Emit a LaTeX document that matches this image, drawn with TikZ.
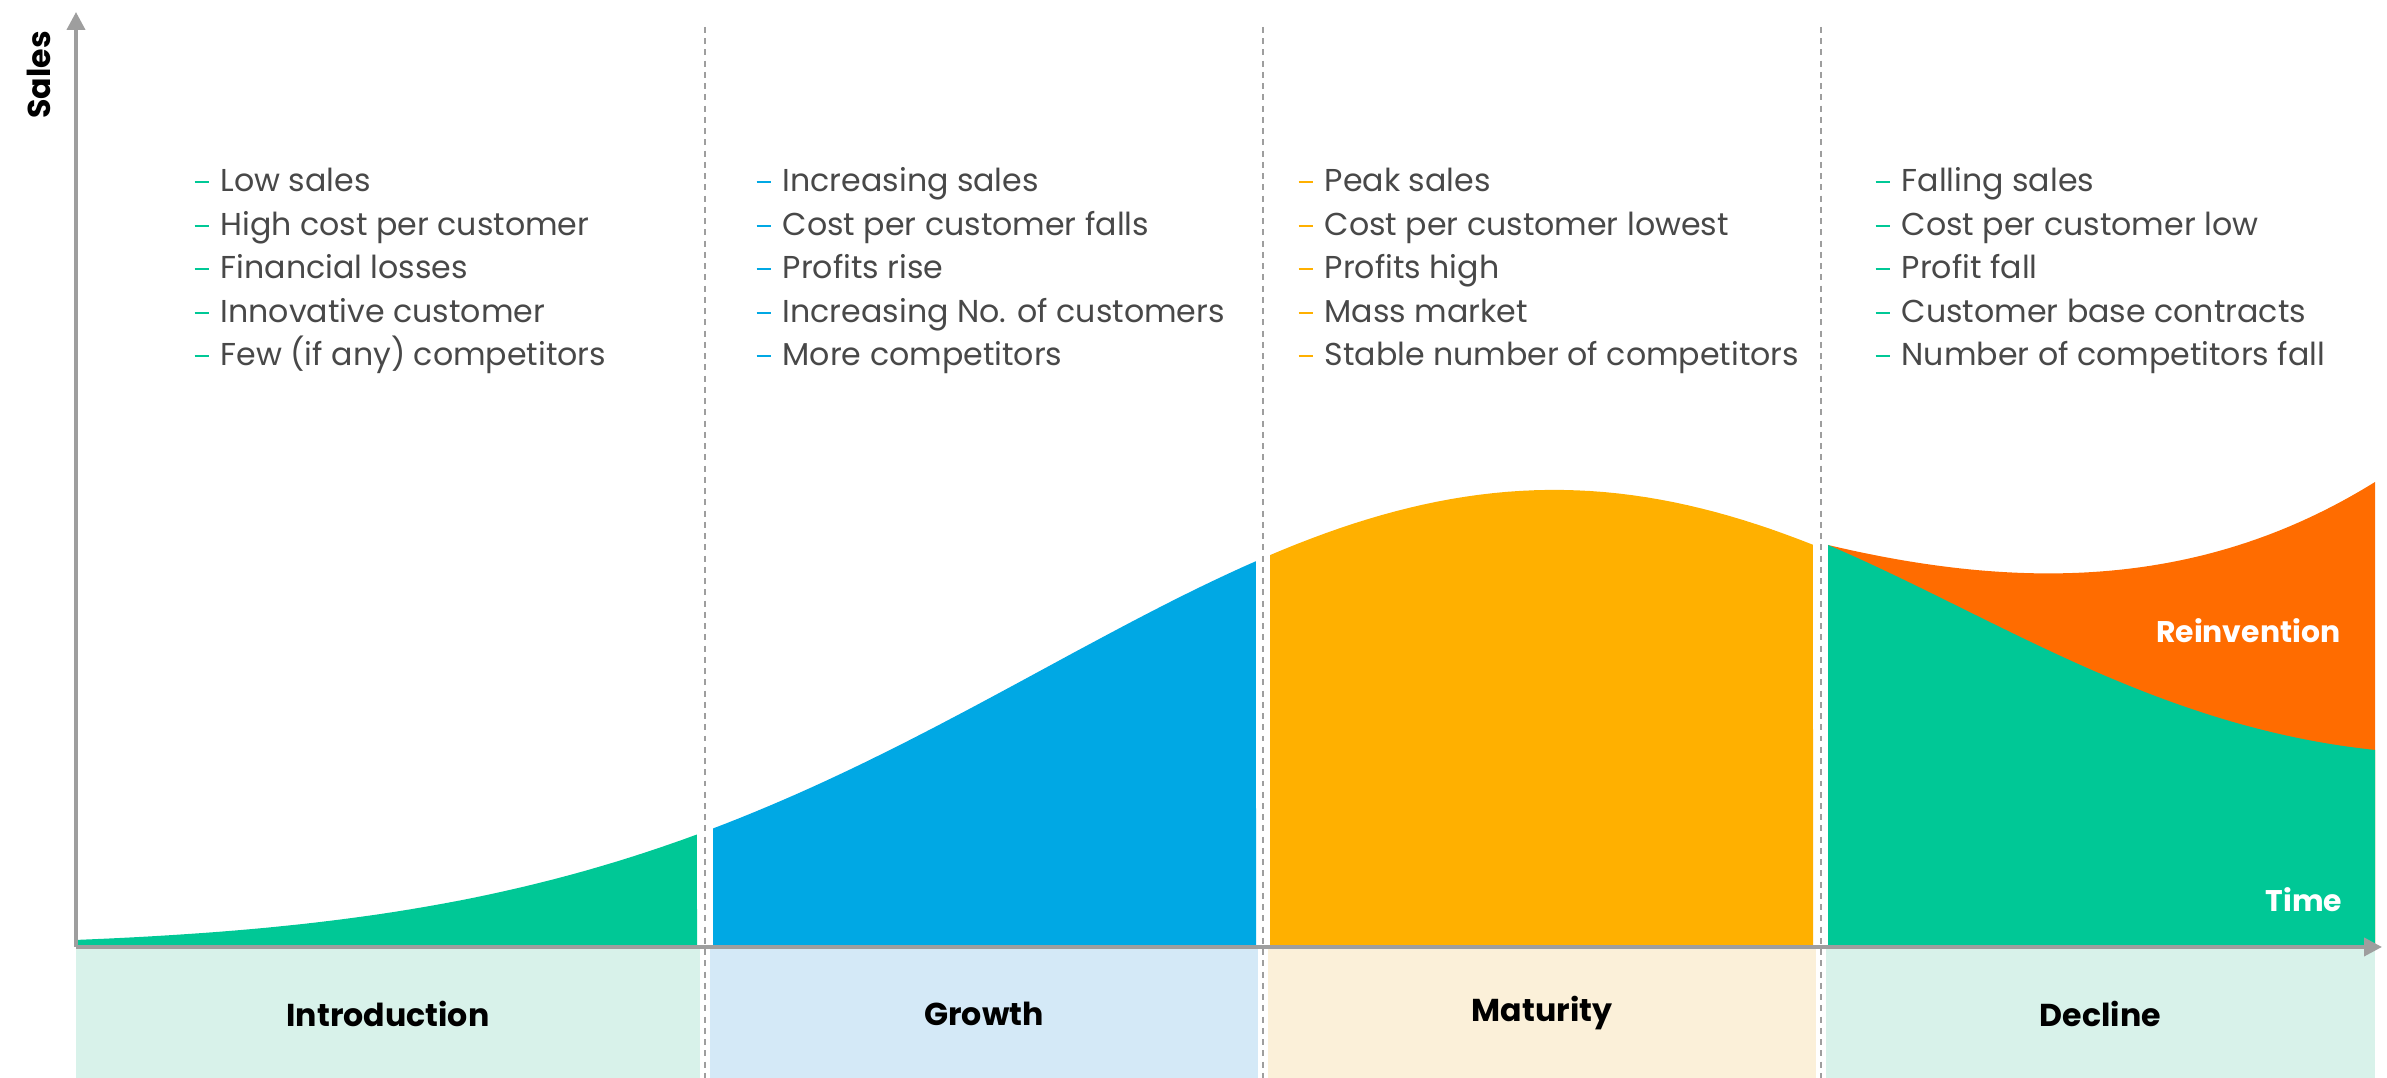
\documentclass[tikz,border=0pt]{standalone}
\usepackage{fontspec}
\setmainfont{Poppins}
\usetikzlibrary{arrows.meta, positioning, calc}

\definecolor{introgreen}{RGB}{0,200,150}
\definecolor{growthblue}{RGB}{0,168,228}
\definecolor{maturityamber}{RGB}{255,176,0}
\definecolor{reinventorange}{RGB}{255,108,0}
\definecolor{introband}{RGB}{216,242,234}
\definecolor{growthband}{RGB}{212,233,247}
\definecolor{maturityband}{RGB}{251,240,217}
\definecolor{axisgray}{RGB}{158,158,158}
\definecolor{listgray}{RGB}{72,72,72}

% short coloured dash in front of each list item
\newcommand{\dashmark}[1]{\textcolor{#1}{\rule[2.5pt]{1.4mm}{0.6pt}}\hspace{1.2mm}}

\begin{document}
\begin{tikzpicture}[
    >=Stealth,
    % Axes and separators
    axisline/.style={-{Triangle[length=1.8mm, width=1.8mm]}, axisgray, line width=1.1pt},
    phasesep/.style={axisgray, line width=0.6pt, dash pattern=on 1.7pt off 1.5pt},
    % Bottom phase bands
    band/.style={rectangle, minimum height=1.29cm, inner sep=0pt, font=\bfseries\fontsize{9}{11}\selectfont, text=black},
    % Bullet lists
    itemtext/.style={anchor=base west, inner sep=0pt, font=\fontsize{9}{10}\selectfont, text=listgray},
    % White labels in the curve
    curvelabel/.style={anchor=base east, inner sep=0pt, font=\bfseries\fontsize{8.5}{10}\selectfont, text=white},
    saleslabel/.style={font=\bfseries\fontsize{9}{10}\selectfont, text=black, rotate=90}
]
    \useasboundingbox (-0.76,-1.31) rectangle (23.11,9.47);

    % === SALES CURVE ===
    \fill[introgreen] (0,0) -- plot[domain=0:6.21, samples=40] (\x, {4.57*exp(-(\x-14.78)^2/52.4)}) -- (6.21,0) -- cycle;
    \fill[growthblue] (6.37,0) -- plot[domain=6.37:11.80, samples=40] (\x, {4.57*exp(-(\x-14.78)^2/52.4)}) -- (11.80,0) -- cycle;
    \fill[maturityamber] (11.94,0) -- plot[domain=11.94:17.37, samples=40] (\x, {4.57*exp(-(\x-14.78)^2/52.4)}) -- (17.37,0) -- cycle;

    % Decline and reinvention
    \fill[reinventorange] (17.52,0) -- (17.52,4.02) .. controls (19.5,3.55) and (21.3,3.6) .. (22.99,4.65) -- (22.99,0) -- cycle;
    \fill[introgreen] (17.52,0) -- (17.52,4.02) .. controls (19.2,3.3) and (20.8,2.2) .. (22.99,1.97) -- (22.99,0) -- cycle;

    \node[curvelabel] (reinvlabel) at (22.65,3.04) {Reinvention};
    \node[curvelabel] (timelabel) at (22.67,0.35) {Time};

    % === PHASE BANDS ===
    \node[band, fill=introband, minimum width=6.24cm] (introband) at (3.12,-0.665) {Introduction};
    \node[band, fill=growthband, minimum width=5.48cm] (growthband) at (9.08,-0.665) {Growth};
    \node[band, fill=maturityband, minimum width=5.48cm] (maturityband) at (14.66,-0.665) {Maturity};
    \node[band, fill=introband, minimum width=5.49cm] (declineband) at (20.245,-0.665) {Decline};

    % === SEPARATORS ===
    \foreach \x in {6.29, 11.87, 17.45} {
        \draw[phasesep] (\x,9.2) -- (\x,-1.31);
    }

    % === AXES ===
    \coordinate (origin) at (0,0);
    \coordinate (ytop) at (0,9.35);
    \coordinate (xend) at (23.06,0);
    \draw[axisline] (origin) -- (ytop);
    \draw[axisline] (origin) -- (xend);
    \node[saleslabel] (sales) at (-0.37,8.72) {Sales};

    % === LISTS ===
    \foreach \t [count=\i] in {Low sales, High cost per customer, Financial losses, Innovative customer, Few (if any) competitors} {
        \node[itemtext] (intro\i) at (1.18, {7.55-0.435*(\i-1)}) {\dashmark{introgreen}\t};
    }
    \foreach \t [count=\i] in {Increasing sales, Cost per customer falls, Profits rise, Increasing No. of customers, More competitors} {
        \node[itemtext] (growth\i) at (6.80, {7.55-0.435*(\i-1)}) {\dashmark{growthblue}\t};
    }
    \foreach \t [count=\i] in {Peak sales, Cost per customer lowest, Profits high, Mass market, Stable number of competitors} {
        \node[itemtext] (maturity\i) at (12.22, {7.55-0.435*(\i-1)}) {\dashmark{maturityamber}\t};
    }
    \foreach \t [count=\i] in {Falling sales, Cost per customer low, Profit fall, Customer base contracts, Number of competitors fall} {
        \node[itemtext] (decline\i) at (17.99, {7.55-0.435*(\i-1)}) {\dashmark{introgreen}\t};
    }

\end{tikzpicture}
\end{document}
